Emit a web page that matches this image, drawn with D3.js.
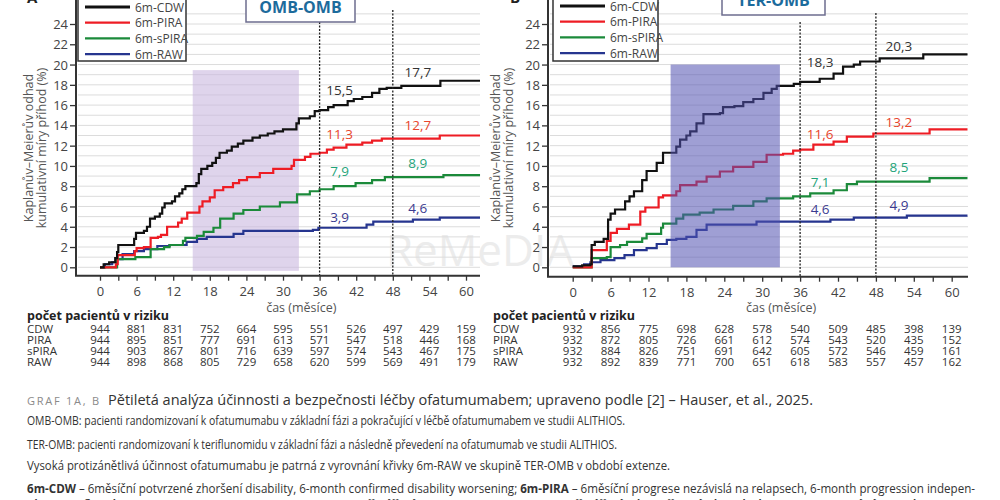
<!DOCTYPE html>
<html>
<head>
<meta charset="utf-8">
<script src="https://cdn.jsdelivr.net/npm/d3@7"></script>
<style>
body { margin: 0; background: #fff; }
svg text { font-family: "Open Sans", sans-serif; }
</style>
</head>
<body>
<svg id="chart" width="1000" height="500"></svg>
<script>
// series names / legend
var seriesNames = ["6m-CDW", "6m-PIRA", "6m-sPIRA", "6m-RAW"];
var riskRows = ["CDW", "PIRA", "sPIRA", "RAW"];
var riskMonths = [0, 6, 12, 18, 24, 30, 36, 42, 48, 54, 60];
var yTicks = [0, 2, 4, 6, 8, 10, 12, 14, 16, 18, 20, 22, 24];

// OMB-OMB curves [month, %]
var ombCDW = [[0,0],[0.6,0.3],[1.5,0.5],[2.5,0.9],[2.8,1.5],[3.0,2.2],[5.6,2.8],[5.9,3.4],[7.2,3.6],[7.7,4.0],[8.2,4.8],[9.0,5.0],[9.8,5.3],[10.2,5.9],[10.6,6.3],[11.8,6.5],[12.3,7.0],[13.0,7.3],[13.5,7.7],[14.0,8.0],[15.8,8.3],[16.2,9.2],[16.6,9.7],[17.6,10.0],[18.4,10.3],[19.0,10.8],[19.6,11.3],[20.8,11.5],[21.6,11.9],[22.6,12.2],[23.5,12.5],[25.0,12.8],[26.2,13.0],[27.5,13.2],[28.6,13.4],[30.0,13.6],[32.2,14.2],[32.6,14.7],[34.4,14.9],[35.2,15.4],[36.0,15.5],[37.4,15.8],[38.3,16.0],[40.6,16.4],[41.6,16.6],[43.0,16.8],[44.6,17.2],[45.8,17.6],[47.0,17.7],[49.4,17.9],[55.8,18.4],[62.3,18.4]];
var ombPIRA = [[0,0],[2.6,0.3],[2.9,1.2],[5.7,1.6],[6.0,1.9],[7.2,2.0],[8.3,2.9],[9.5,3.0],[10.0,3.2],[11.0,4.0],[12.8,4.4],[13.4,4.8],[14.3,5.4],[16.3,6.0],[16.8,6.5],[18.0,6.9],[18.8,7.6],[20.2,7.9],[21.8,8.3],[22.8,8.6],[24.1,8.9],[26.2,9.3],[28.4,9.7],[31.4,10.0],[31.8,10.6],[33.6,10.9],[34.5,11.2],[36.0,11.3],[37.2,11.6],[38.3,11.8],[40.4,12.1],[43.0,12.3],[44.6,12.5],[46.2,12.7],[55.7,13.0],[62.3,13.0]];
var ombSPIRA = [[0,0],[1.6,0],[2.8,0.8],[5.8,1.0],[8.3,1.8],[10.5,2.0],[11.4,2.2],[13.6,2.6],[14.0,2.9],[15.9,3.1],[17.0,3.5],[18.6,3.9],[19.7,4.8],[21.9,5.3],[23.5,5.65],[26.2,6.0],[29.5,6.4],[32.3,7.2],[34.4,7.5],[36.0,7.7],[38.3,8.0],[41.9,8.3],[44.6,8.6],[46.7,8.9],[56.3,9.1],[62.3,9.1]];
var ombRAW = [[0,0],[0.8,0.3],[2.0,0.5],[2.6,0.8],[3.7,1.3],[5.6,1.6],[7.2,1.8],[9.4,2.1],[11.4,2.2],[14.2,2.5],[15.9,2.8],[17.5,3.0],[21.9,3.3],[23.5,3.6],[34.9,3.7],[35.8,3.9],[43.7,4.2],[44.8,4.5],[51.3,4.7],[55.7,4.9],[62.3,4.9]];

// TER-OMB curves [month, %]
var terCDW = [[0,0.1],[1.5,0.2],[2.8,0.3],[3.0,2.2],[3.5,2.5],[4.9,2.8],[5.6,4.7],[6.0,5.3],[6.7,5.7],[8.3,6.5],[9.0,7.0],[9.7,7.5],[11.0,8.6],[11.7,9.5],[13.3,10.3],[14.3,11.3],[16.4,11.9],[17.0,12.6],[18.0,13.0],[18.6,13.4],[19.6,14.2],[20.7,15.1],[23.3,15.2],[23.8,15.8],[25.6,15.9],[27.0,16.3],[28.6,16.6],[30.2,17.2],[31.5,17.6],[32.3,17.9],[35.0,18.1],[36.0,18.3],[39.1,18.6],[41.3,19.1],[42.8,19.8],[44.5,20.0],[45.5,20.3],[48.6,20.6],[55.5,21.0],[62.5,21.0]];
var terPIRA = [[0,0],[2.9,0],[3.0,1.7],[5.4,2.6],[6.0,3.4],[7.0,3.8],[8.9,4.2],[10.7,5.5],[11.5,5.9],[13.6,6.9],[14.3,7.1],[16.4,7.5],[17.0,8.1],[19.6,8.45],[21.2,8.95],[23.3,9.45],[25.4,9.9],[28.6,10.4],[30.7,11.1],[33.3,11.2],[34.9,11.5],[36.0,11.6],[38.1,12.1],[41.3,12.4],[43.4,12.9],[47.6,13.2],[56.5,13.6],[62.5,13.6]];
var terSPIRA = [[0,0],[2.9,0],[3.0,0.9],[5.4,1.0],[6.0,2.0],[7.5,2.2],[8.6,2.5],[11.0,2.85],[11.7,3.3],[14.0,3.9],[14.3,4.3],[16.4,4.8],[17.5,5.2],[20.1,5.4],[22.3,5.7],[25.4,6.05],[28.6,6.5],[30.7,6.8],[34.9,7.0],[37.6,7.3],[41.3,7.6],[43.4,8.2],[45.0,8.45],[56.5,8.8],[62.5,8.8]];
var terRAW = [[0,0.1],[1.8,0.3],[2.8,0.5],[4.4,0.7],[6.6,0.9],[8.2,1.2],[9.7,1.7],[11.7,1.9],[13.3,2.3],[14.9,2.7],[16.4,2.8],[18.0,3.0],[19.6,3.7],[21.2,4.2],[29.1,4.5],[40.8,4.7],[44.5,4.9],[52.9,5.1],[62.5,5.1]];

// values printed at 36 and 48 months
var ombAt36 = [15.5, 11.3, 7.9, 3.9];
var ombAt48 = [17.7, 12.7, 8.9, 4.6];
var terAt36 = [18.3, 11.6, 7.1, 4.6];
var terAt48 = [20.3, 13.2, 8.5, 4.9];

// shaded periods [from, to] months
var ombShade = [15.2, 32.6];
var terShade = [15.5, 32.8];

// patients at risk
var ombRisk = [
  [944, 881, 831, 752, 664, 595, 551, 526, 497, 429, 159],
  [944, 895, 851, 777, 691, 613, 571, 547, 518, 446, 168],
  [944, 903, 867, 801, 716, 639, 597, 574, 543, 467, 175],
  [944, 898, 868, 805, 729, 658, 620, 599, 569, 491, 179]
];
var terRisk = [
  [932, 856, 775, 698, 628, 578, 540, 509, 485, 398, 139],
  [932, 872, 805, 726, 661, 612, 574, 543, 520, 435, 152],
  [932, 884, 826, 751, 691, 642, 605, 572, 546, 459, 161],
  [932, 892, 839, 771, 700, 651, 618, 583, 557, 457, 162]
];

var lineColors = ["#111111", "#ee1c24", "#1b8a3a", "#26358f"];
var labelColors = ["#333333", "#e8452c", "#1fa47a", "#3b3b8f"];

var svg = d3.select("#chart");
var fmt = function(v) { return d3.format(".1f")(v).replace(".", ","); };

// faint watermark (behind everything)
svg.append("text").attr("x", 480).attr("y", 266)
  .attr("text-anchor", "middle").attr("font-size", 44)
  .attr("fill", "#ececec").text("ReMeDIA");

//-----------------------------------------------------------------------------
function drawPanel(p) {
  var x = d3.scaleLinear().domain([0, 60]).range([p.x0, p.x60]);
  var y = d3.scaleLinear().domain([0, 24]).range([267.3, 24]);
  var g = svg.append("g");

  // horizontal grid, every 1 %
  g.selectAll(".grid").data(d3.range(0, 26)).enter().append("line")
    .attr("x1", p.axL + 2).attr("x2", p.axR)
    .attr("y1", d => y(d)).attr("y2", d => y(d))
    .attr("stroke", "#dcdcdc").attr("stroke-width", 1);

  var shade = g.append("rect")
    .attr("x", x(p.shade[0])).attr("width", x(p.shade[1]) - x(p.shade[0]))
    .attr("y", y(p.shadeTop)).attr("height", y(p.shadeBottom) - y(p.shadeTop))
    .attr("fill", p.shadeFill).attr("opacity", p.shadeOpacity);

  var line = d3.line().x(d => x(d[0])).y(d => y(d[1])).curve(d3.curveStepAfter);
  // draw RAW first so CDW ends on top
  p.series.slice().reverse().forEach(function(s, i) {
    var k = p.series.length - 1 - i;
    g.append("path").datum(s)
      .attr("d", line)
      .attr("fill", "none")
      .attr("stroke", lineColors[k])
      .attr("stroke-width", 2.2);
  });

  if (p.shadeOnTop) shade.raise();

  // dashed verticals at 36 and 48
  [[36, p.top36], [48, p.top48]].forEach(function(v) {
    g.append("line")
      .attr("x1", x(v[0])).attr("x2", x(v[0]))
      .attr("y1", v[1]).attr("y2", p.axY)
      .attr("stroke", "#222").attr("stroke-width", 1.3)
      .attr("stroke-dasharray", "2,1.5");
  });

  // axes
  var yAxis = g.append("g")
    .attr("transform", `translate(${p.axL},0)`)
    .call(d3.axisLeft(y).tickValues(yTicks).tickSize(6).tickPadding(2));
  yAxis.select(".domain").remove();
  yAxis.selectAll("text").attr("font-size", 13).attr("fill", "#444")
    .style("font-family", "Open Sans").attr("dy", "0.35em");
  yAxis.selectAll("line").attr("stroke", "#333").attr("stroke-width", 1.3);

  var xAxis = g.append("g")
    .attr("transform", `translate(0,${p.axY})`)
    .call(d3.axisBottom(x).tickValues(d3.range(0, 61, 3)).tickSize(5).tickPadding(6)
      .tickFormat(d => d % 6 == 0 ? d : ""));
  xAxis.select(".domain").remove();
  xAxis.selectAll("text").attr("font-size", 13).attr("fill", "#444")
    .style("font-family", "Open Sans");
  xAxis.selectAll("line").attr("stroke", "#333").attr("stroke-width", 1.3);

  g.append("path")
    .attr("d", `M${p.axL},0V${p.axY}H${p.axR}`)
    .attr("fill", "none").attr("stroke", "#333").attr("stroke-width", 2);

  // value labels
  [[36, p.at36, p.dy36, 20], [48, p.at48, p.dy48, p.off48]].forEach(function(v) {
    g.selectAll(null).data(v[1]).enter().append("text")
      .attr("x", x(v[0]) + v[3])
      .attr("y", (d, i) => y(d) - v[2][i])
      .attr("text-anchor", "middle")
      .attr("font-size", 13.5)
      .attr("fill", (d, i) => labelColors[i])
      .text(fmt);
  });

  // legend
  var lg = g.append("g");
  lg.append("rect")
    .attr("x", p.lgX).attr("y", -3).attr("width", p.lgW).attr("height", 64)
    .attr("fill", "#fff").attr("stroke", "#333").attr("stroke-width", 1.5);
  seriesNames.forEach(function(n, i) {
    var yy = p.lgY0 + i * 15.7;
    lg.append("line")
      .attr("x1", p.lgX + 7).attr("x2", p.lgX + 52)
      .attr("y1", yy).attr("y2", yy)
      .attr("stroke", lineColors[i]).attr("stroke-width", i == 0 ? 3 : 2.2);
    lg.append("text")
      .attr("x", p.lgX + 57).attr("y", yy + 4.5)
      .attr("font-size", 12).attr("fill", "#444").text(n);
  });

  // title box
  g.append("rect")
    .attr("x", p.tbX).attr("y", -25).attr("width", p.tbW).attr("height", p.tbBottom + 25)
    .attr("fill", "#fff").attr("stroke", "#6d6d8f").attr("stroke-width", 1.5);
  g.append("text")
    .attr("x", p.tbX + p.tbW / 2).attr("y", p.tbBottom - 9)
    .attr("text-anchor", "middle").attr("font-size", 16).attr("font-weight", "bold")
    .attr("fill", "#1c6b9c").text(p.title);

  // panel letter
  g.append("text").attr("x", p.letterX).attr("y", 3)
    .attr("font-size", 15).attr("font-weight", "bold").attr("fill", "#222").text(p.letter);

  // y label
  var yl = g.append("text")
    .attr("transform", `translate(${p.ylX},148) rotate(-90)`)
    .attr("text-anchor", "middle").attr("font-size", 12.5).attr("fill", "#555");
  yl.append("tspan").attr("x", 0).attr("dy", 0).text("Kaplanův–Meierův odhad");
  yl.append("tspan").attr("x", 0).attr("dy", 13).text("kumulativní míry příhod (%)");

  // x label
  g.append("text").attr("x", x(33)).attr("y", 312)
    .attr("text-anchor", "middle").attr("font-size", 12.5).attr("fill", "#555")
    .text("čas (měsíce)");

  // patients at risk table
  g.append("text").attr("x", p.tabX).attr("y", 320)
    .attr("font-size", 12.5).attr("font-weight", "bold").attr("fill", "#222")
    .text("počet pacientů v riziku");
  riskRows.forEach(function(r, i) {
    var yy = 332.5 + i * 11.2;
    g.append("text").attr("x", p.tabX).attr("y", yy)
      .attr("font-size", 11.5).attr("fill", "#333").text(r);
    g.selectAll(null).data(p.risk[i]).enter().append("text")
      .attr("x", (d, j) => x(riskMonths[j])).attr("y", yy)
      .attr("text-anchor", "middle").attr("font-size", 11.5).attr("fill", "#333")
      .text(d => d);
  });
}

drawPanel({
  x0: 100, x60: 466, axL: 76, axR: 480, axY: 275.7,
  series: [ombCDW, ombPIRA, ombSPIRA, ombRAW],
  shade: ombShade, shadeTop: 19.45, shadeBottom: -0.35,
  shadeFill: "#c9b8df", shadeOpacity: 0.6, shadeOnTop: false,
  top36: 22, top48: 10,
  at36: ombAt36, at48: ombAt48, dy36: [15, 14, 11, 6], dy48: [11, 9, 9, 8], off48: 25,
  lgX: 78, lgW: 108, lgY0: 7,
  tbX: 246, tbW: 109, tbBottom: 22, title: "OMB-OMB",
  letter: "A", letterX: 27, ylX: 33, tabX: 27, risk: ombRisk
});

drawPanel({
  x0: 572.7, x60: 951.7, axL: 548, axR: 968, axY: 276.7,
  series: [terCDW, terPIRA, terSPIRA, terRAW],
  shade: terShade, shadeTop: 20, shadeBottom: 0,
  shadeFill: "#5050b0", shadeOpacity: 0.55, shadeOnTop: true,
  top36: 22, top48: 13,
  at36: terAt36, at48: terAt48, dy36: [15, 11, 8, 7], dy48: [11, 6, 9, 8], off48: 23,
  lgX: 553, lgW: 105, lgY0: 6,
  tbX: 722, tbW: 103, tbBottom: 15, title: "TER-OMB",
  letter: "B", letterX: 510, ylX: 500, tabX: 493, risk: terRisk
});

//-----------------------------------------------------------------------------
// caption
var cap = svg.append("g").attr("fill", "#333");
cap.append("text").attr("x", 27).attr("y", 405)
  .attr("font-size", 11).attr("fill", "#8a8a8a")
  .attr("textLength", 72).attr("lengthAdjust", "spacing")
  .text("GRAF 1A, B");
cap.append("text").attr("x", 108).attr("y", 405)
  .attr("font-size", 14.5).attr("textLength", 705).attr("lengthAdjust", "spacingAndGlyphs")
  .text("Pětiletá analýza účinnosti a bezpečnosti léčby ofatumumabem; upraveno podle [2] – Hauser, et al., 2025.");

var capLines = [
  ["OMB-OMB: pacienti randomizovaní k ofatumumabu v základní fázi a pokračující v léčbě ofatumumabem ve studii ALITHIOS.", 425, 598],
  ["TER-OMB: pacienti randomizovaní k teriflunomidu v základní fázi a následně převedení na ofatumumab ve studii ALITHIOS.", 449, 590],
  ["Vysoká protizánětlivá účinnost ofatumumabu je patrná z vyrovnání křivky 6m-RAW ve skupině TER-OMB v období extenze.", 470, 643]
];
capLines.forEach(function(l) {
  cap.append("text").attr("x", 27).attr("y", l[1])
    .attr("font-size", 12.5).attr("textLength", l[2]).attr("lengthAdjust", "spacingAndGlyphs")
    .text(l[0]);
});

var last = cap.append("text").attr("x", 27).attr("y", 493).attr("font-size", 12.5)
  .attr("textLength", 948).attr("lengthAdjust", "spacingAndGlyphs");
last.append("tspan").attr("font-weight", "bold").text("6m-CDW");
last.append("tspan").text(" – 6měsíční potvrzené zhoršení disability, 6-month confirmed disability worsening; ");
last.append("tspan").attr("font-weight", "bold").text("6m-PIRA");
last.append("tspan").text(" – 6měsíční progrese nezávislá na relapsech, 6-month progression indepen-");

var last2 = cap.append("text").attr("x", 27).attr("y", 509).attr("font-size", 12.5)
  .attr("textLength", 948).attr("lengthAdjust", "spacingAndGlyphs");
last2.append("tspan").text("dent of relapse activity; ");
last2.append("tspan").attr("font-weight", "bold").text("6m-sPIRA");
last2.append("tspan").text(" – 6měsíční ... ; ");
last2.append("tspan").attr("font-weight", "bold").text("6m-RAW");
last2.append("tspan").text(" – 6měsíční zhoršení disability související s relapsem");
</script>
</body>
</html>
